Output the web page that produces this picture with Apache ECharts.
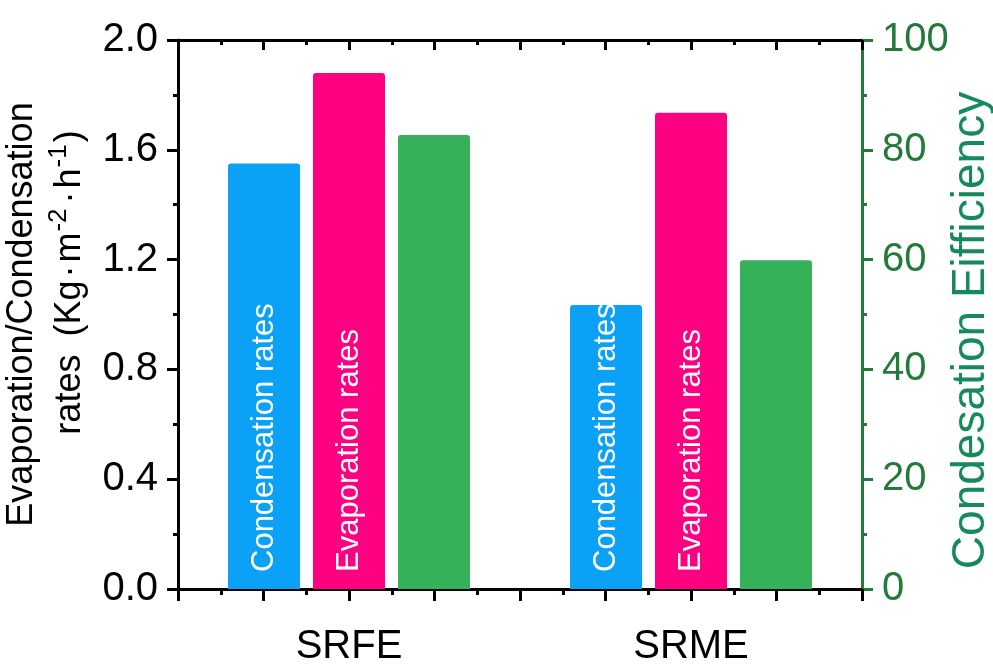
<!DOCTYPE html>
<html>
<head>
<meta charset="utf-8">
<script src="https://cdn.jsdelivr.net/npm/echarts@6/dist/echarts.min.js"></script>
<style>
  html, body { margin: 0; padding: 0; background: #ffffff; }
  #chart { width: 993px; height: 668px; }
</style>
</head>
<body>
<div id="chart"></div>
<script>
// Samples on the category axis
const categories = ['SRFE', 'SRME'];

// Rates in Kg·m^-2·h^-1 (left axis)
const condensationRates = [1.55, 1.035];
const evaporationRates = [1.88, 1.735];

// Condensation efficiency in % (right axis)
const condensationEfficiency = [82.7, 59.9];

// Axis ranges and tick spacing
const rateAxis = { min: 0, max: 2.0, interval: 0.4 };
const efficiencyAxis = { min: 0, max: 100, interval: 20 };
const frameTicks = { min: 0, max: 8, interval: 1 };

const FONT = 'Arial, "Liberation Sans", sans-serif';
const BLACK = '#000000';
const GREEN_AXIS = '#237a3b';
const GREEN_TITLE = '#168a5c';

const colors = {
  condensation: '#0aa1f6',
  evaporation: '#fe0082',
  efficiency: '#35b15a'
};

// Decorative frame axes: long ticks on whole steps, short ones halfway
function frameAxis(position, inside) {
  return {
    type: 'value',
    position: position,
    min: frameTicks.min,
    max: frameTicks.max,
    interval: frameTicks.interval,
    axisLine: { show: true, onZero: false, lineStyle: { color: BLACK, width: 3 } },
    axisTick: { show: true, inside: inside, length: inside ? 10 : 12, lineStyle: { color: BLACK, width: 3 } },
    minorTick: { show: true, splitNumber: 2, length: inside ? 5 : 6, lineStyle: { color: BLACK, width: 3 } },
    axisLabel: { show: false },
    splitLine: { show: false },
    minorSplitLine: { show: false }
  };
}

const chart = echarts.init(document.getElementById('chart'), null, { renderer: 'canvas' });

const barLabel = {
  show: true,
  position: 'insideBottom',
  rotate: 90,
  align: 'left',
  verticalAlign: 'middle',
  distance: 17,
  color: '#ffffff',
  fontFamily: FONT,
  fontSize: 31,
  formatter: (p) => p.seriesName
};

// Left axis title: two lines, the unit line carries superscripts
const rateTitle =
  'Evaporation/Condensation\n' +
  '{lead| }rates{sp| }(Kg{dot|·}m{sup|-2}{dot|·}h{sup|-1})';

chart.setOption({
  animation: false,
  backgroundColor: '#ffffff',
  textStyle: { fontFamily: FONT },
  grid: { left: 178, right: 131, top: 40, bottom: 79, containLabel: false, outerBoundsMode: 'none' },
  xAxis: [
    {
      type: 'category',
      data: categories,
      position: 'bottom',
      axisLine: { show: false },
      axisTick: { show: false },
      axisLabel: { color: BLACK, fontFamily: FONT, fontSize: 40, margin: 38 },
      splitLine: { show: false }
    },
    frameAxis('bottom', false),
    frameAxis('top', true)
  ],
  yAxis: [
    {
      type: 'value',
      position: 'left',
      min: rateAxis.min,
      max: rateAxis.max,
      interval: rateAxis.interval,
      axisLine: { show: true, onZero: false, lineStyle: { color: BLACK, width: 3 } },
      axisTick: { show: true, length: 11, lineStyle: { color: BLACK, width: 3 } },
      minorTick: { show: true, splitNumber: 2, length: 5, lineStyle: { color: BLACK, width: 3 } },
      axisLabel: {
        color: BLACK, fontFamily: FONT, fontSize: 40, margin: 20,
        formatter: (v) => v.toFixed(1)
      },
      splitLine: { show: false },
      name: rateTitle,
      nameLocation: 'middle',
      nameRotate: 90,
      nameGap: 84,
      nameMoveOverlap: false,
      nameTextStyle: {
        color: BLACK,
        fontFamily: FONT,
        fontSize: 36,
        lineHeight: 48,
        rich: {
          lead: { fontFamily: FONT, fontSize: 36, width: 64 },
          sp: { fontFamily: FONT, fontSize: 36, width: 18 },
          dot: { fontFamily: FONT, fontSize: 36, padding: [0, 3, 0, 3] },
          sup: { fontFamily: FONT, fontSize: 26, lineHeight: 26, verticalAlign: 'top', padding: [0, 2, 0, 1] }
        }
      }
    },
    {
      type: 'value',
      position: 'right',
      min: efficiencyAxis.min,
      max: efficiencyAxis.max,
      interval: efficiencyAxis.interval,
      axisLine: { show: true, onZero: false, lineStyle: { color: GREEN_AXIS, width: 3 } },
      axisTick: { show: true, length: 11, lineStyle: { color: GREEN_AXIS, width: 3 } },
      minorTick: { show: true, splitNumber: 2, length: 5, lineStyle: { color: GREEN_AXIS, width: 3 } },
      axisLabel: { color: GREEN_AXIS, fontFamily: FONT, fontSize: 40, margin: 20 },
      splitLine: { show: false },
      name: 'Condesation Eifficiency',
      nameLocation: 'middle',
      nameRotate: 90,
      nameGap: 86,
      nameMoveOverlap: false,
      nameTextStyle: { color: GREEN_TITLE, fontFamily: FONT, fontSize: 46, padding: [0, 32, 0, 0] }
    }
  ],
  series: [
    {
      name: 'Condensation rates',
      type: 'bar',
      xAxisIndex: 0,
      yAxisIndex: 0,
      data: condensationRates,
      barWidth: 72,
      barGap: '18%',
      itemStyle: { color: colors.condensation, borderRadius: [3, 3, 0, 0] },
      label: barLabel
    },
    {
      name: 'Evaporation rates',
      type: 'bar',
      xAxisIndex: 0,
      yAxisIndex: 0,
      data: evaporationRates,
      barWidth: 72,
      barGap: '18%',
      itemStyle: { color: colors.evaporation, borderRadius: [3, 3, 0, 0] },
      label: barLabel
    },
    {
      name: 'Condesation Eifficiency',
      type: 'bar',
      xAxisIndex: 0,
      yAxisIndex: 1,
      data: condensationEfficiency,
      barWidth: 72,
      barGap: '18%',
      itemStyle: { color: colors.efficiency, borderRadius: [3, 3, 0, 0] },
      label: { show: false }
    }
  ]
});
</script>
</body>
</html>
